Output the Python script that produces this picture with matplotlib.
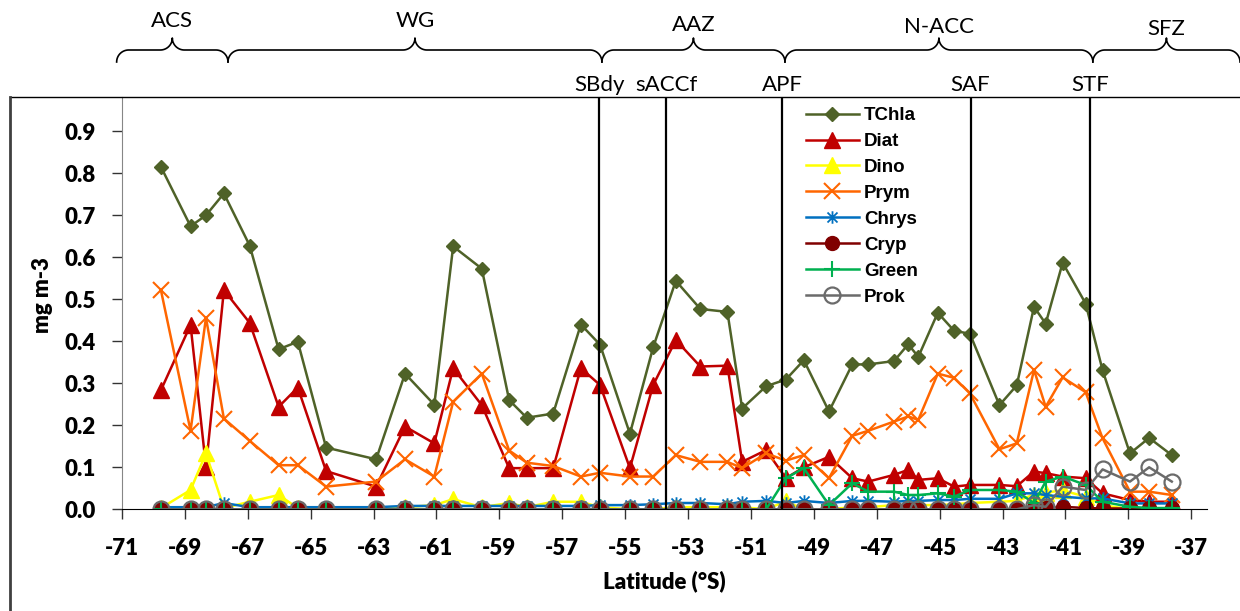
import matplotlib
matplotlib.use("Agg")
import matplotlib.pyplot as plt
from matplotlib.path import Path
import numpy as np

plt.rcParams["axes.unicode_minus"] = False

# station latitudes (°S, negative)
lat = [-69.76, -68.82, -68.33, -67.76, -66.94, -66.02, -65.41, -64.51, -62.92,
       -62.00, -61.07, -60.47, -59.56, -58.69, -58.13, -57.29, -56.41, -55.80,
       -54.85, -54.11, -53.39, -52.61, -51.75, -51.28, -50.52, -49.89, -49.32,
       -48.52, -47.78, -47.27, -46.45, -46.00, -45.68, -45.06, -44.54, -44.04,
       -43.10, -42.55, -42.00, -41.63, -41.09, -40.36, -39.82, -38.95, -38.34,
       -37.62]

tchla = [0.815, 0.674, 0.700, 0.752, 0.628, 0.381, 0.399, 0.147, 0.119,
         0.323, 0.249, 0.626, 0.573, 0.260, 0.218, 0.228, 0.440, 0.392, 0.180,
         0.386, 0.544, 0.477, 0.470, 0.240, 0.293, 0.309, 0.355, 0.233, 0.345,
         0.345, 0.353, 0.393, 0.363, 0.468, 0.425, 0.418, 0.248, 0.295, 0.482,
         0.442, 0.587, 0.490, 0.331, 0.133, 0.170, 0.129]
diat = [0.284, 0.439, 0.101, 0.522, 0.444, 0.244, 0.290, 0.091, 0.054,
        0.197, 0.157, 0.336, 0.248, 0.098, 0.098, 0.098, 0.336, 0.296, 0.098,
        0.296, 0.403, 0.340, 0.342, 0.113, 0.141, 0.074, 0.100, 0.125, 0.074,
        0.066, 0.082, 0.094, 0.070, 0.074, 0.054, 0.058, 0.058, 0.055, 0.090,
        0.086, 0.078, 0.074, 0.038, 0.022, 0.018, 0.018]
dino = [0.003, 0.046, 0.133, 0.003, 0.018, 0.034, 0.003, 0.0, 0.0,
        0.005, 0.010, 0.024, 0.005, 0.015, 0.005, 0.018, 0.018, 0.005, 0.0,
        0.0, 0.005, 0.005, 0.005, 0.005, 0.0, 0.019, 0.0, 0.0, 0.005,
        0.005, 0.010, 0.010, 0.010, 0.010, 0.012, 0.015, 0.018, 0.020, 0.035,
        0.040, 0.045, 0.030, 0.010, 0.0, 0.0, 0.0]
prym = [0.521, 0.187, 0.456, 0.216, 0.163, 0.105, 0.105, 0.054, 0.066,
        0.119, 0.078, 0.256, 0.323, 0.140, 0.111, 0.103, 0.078, 0.087, 0.078,
        0.078, 0.129, 0.113, 0.113, 0.098, 0.133, 0.116, 0.129, 0.074, 0.175,
        0.187, 0.209, 0.221, 0.213, 0.323, 0.313, 0.276, 0.143, 0.157, 0.332,
        0.244, 0.314, 0.279, 0.169, 0.042, 0.042, 0.034]
chrys = [0.005, 0.005, 0.005, 0.015, 0.005, 0.005, 0.005, 0.005, 0.005,
         0.008, 0.008, 0.008, 0.008, 0.008, 0.008, 0.008, 0.008, 0.010, 0.010,
         0.012, 0.015, 0.015, 0.012, 0.018, 0.020, 0.015, 0.020, 0.015, 0.020,
         0.020, 0.018, 0.020, 0.020, 0.022, 0.022, 0.025, 0.025, 0.038, 0.038,
         0.034, 0.030, 0.026, 0.026, 0.014, 0.014, 0.014]
cryp = [0.0] * 38 + [0.002, 0.002, 0.006, 0.003, 0.002, 0.002, 0.002, 0.002]
green = [0.0] * 25 + [0.074, 0.098, 0.010, 0.062, 0.042, 0.042, 0.034, 0.034,
                      0.038, 0.030, 0.046, 0.046, 0.042, 0.015, 0.066, 0.078,
                      0.058, 0.018, 0.006, 0.003, 0.003]
prok = [0.0] * 38 + [0.010, 0.006, 0.054, 0.046, 0.095, 0.066, 0.100, 0.066]

xticks = list(range(-71, -36, 2))

fronts = ["SBdy", "sACCf", "APF", "SAF", "STF"]
front_lat = [-55.83, -53.70, -50.00, -44.02, -40.22]

zones = ["ACS", "WG", "AAZ", "N-ACC", "SFZ"]
zone_edges = [-71.17, -67.63, -55.74, -49.92, -40.13, -35.45]

W, H = 1240, 611
fig = plt.figure(figsize=(W / 100, H / 100), dpi=100)
ax = fig.add_axes([122 / W, (H - 509.3) / H, 1085 / W, 412.3 / H])
ax.set_xlim(-71, -36.5)
ax.set_ylim(0, 0.9817)

# excel-style star marker: an X crossed by a vertical bar
star = Path([(-1, -1), (1, 1), (-1, 1), (1, -1), (0, -1.25), (0, 1.25)],
            [Path.MOVETO, Path.LINETO, Path.MOVETO, Path.LINETO,
             Path.MOVETO, Path.LINETO])

lw = 1.8
ax.plot(lat, tchla, color="#4F6228", lw=lw, marker="D", ms=7.5, label="TChla")
ax.plot(lat, diat, color="#C00000", lw=lw, marker="^", ms=11, label="Diat")
ax.plot(lat, dino, color="#FFFF00", lw=lw, marker="^", ms=11, label="Dino")
ax.plot(lat, prym, color="#FF6600", lw=lw, marker="x", ms=11, mew=1.5, label="Prym")
ax.plot(lat, chrys, color="#0070C0", lw=lw, marker=star, ms=9, mew=1.3,
        mfc="none", label="Chrys")
ax.plot(lat, cryp, color="#800000", lw=lw, marker="o", ms=10, label="Cryp")
ax.plot(lat, green, color="#00B050", lw=lw, marker="+", ms=11, mew=1.5, label="Green")
ax.plot(lat, prok, color="#6B6B6B", lw=lw, marker="o", ms=11.5, mfc="none",
        mew=1.6, label="Prok")

for fl in front_lat:
    ax.axvline(fl, color="black", lw=1.6)

ax.spines["top"].set_visible(False)
ax.spines["right"].set_visible(False)
ax.spines["left"].set_color("#868686")
ax.spines["bottom"].set_color("black")
ax.set_xticks(xticks)
ax.set_yticks(np.arange(0, 0.91, 0.1))
ax.set_yticklabels([f"{v:.1f}" for v in np.arange(0, 0.91, 0.1)])
ax.tick_params(axis="both", length=7, width=1, color="#333333")
for t in ax.get_xticklabels() + ax.get_yticklabels():
    t.set_fontfamily("Lato")
    t.set_fontweight("heavy")
    t.set_fontsize(16)
ax.tick_params(axis="x", pad=14)
ax.tick_params(axis="y", pad=12)
ax.set_xlabel("Latitude (°S)", fontfamily="Lato", fontweight="heavy", fontsize=16,
              labelpad=8)
ax.set_ylabel("mg m-3", fontfamily="Lato", fontweight="heavy", fontsize=16)
ax.yaxis.set_label_coords(-0.064, 0.52)

leg = fig.legend(loc="upper left", bbox_to_anchor=(806 / W, 1 - 107 / H),
                 frameon=False, handlelength=2.8, handletextpad=0.3,
                 labelspacing=0.47, borderpad=0, borderaxespad=0,
                 prop={"family": "Liberation Sans", "weight": "bold", "size": 13.5})

# overlay in pixel coordinates for the zone braces and front labels
ov = fig.add_axes([0, 0, 1, 1])
ov.set_xlim(0, W)
ov.set_ylim(H, 0)
ov.axis("off")
ov.patch.set_alpha(0)


def to_px(v):
    return ax.transData.transform((v, 0))[0]


def brace_path(x1, x2, y_end=62, y_mid=50, r=12):
    xm = (x1 + x2) / 2
    y_tip = y_mid - r
    a = np.linspace(0, np.pi / 2, 20)
    xs, ys = [], []
    # left hook
    xs += list(x1 + r - r * np.cos(a)); ys += list(y_end - r * np.sin(a))
    # up to the tip
    xs += list(xm - r + r * np.sin(a)); ys += list(y_tip + r * np.cos(a))
    # down from the tip
    xs += list(xm + r - r * np.cos(a)); ys += list(y_tip + r * np.sin(a))
    # right hook
    xs += list(x2 - r + r * np.sin(a)); ys += list(y_mid + r - r * np.cos(a))
    return xs, ys


zone_label_y = [21, 21, 25, 27, 29]
for i, z in enumerate(zones):
    x1, x2 = to_px(zone_edges[i]), to_px(zone_edges[i + 1])
    bx, by = brace_path(x1, x2)
    ov.plot(bx, by, color="black", lw=1.2, clip_on=False)
    ov.text((x1 + x2) / 2, zone_label_y[i], z, ha="center", va="center",
            fontfamily="Lato", fontsize=16)

for f, fl in zip(fronts, front_lat):
    ov.text(to_px(fl), 85, f, ha="center", va="center", fontfamily="Lato",
            fontsize=16)

# chart area border (top and left)
ov.plot([10, W], [97, 97], color="black", lw=1.0, clip_on=False)
ov.plot([10, 10], [97, H], color="#404040", lw=2.0, clip_on=False)

fig.savefig("out.png", dpi=100)
